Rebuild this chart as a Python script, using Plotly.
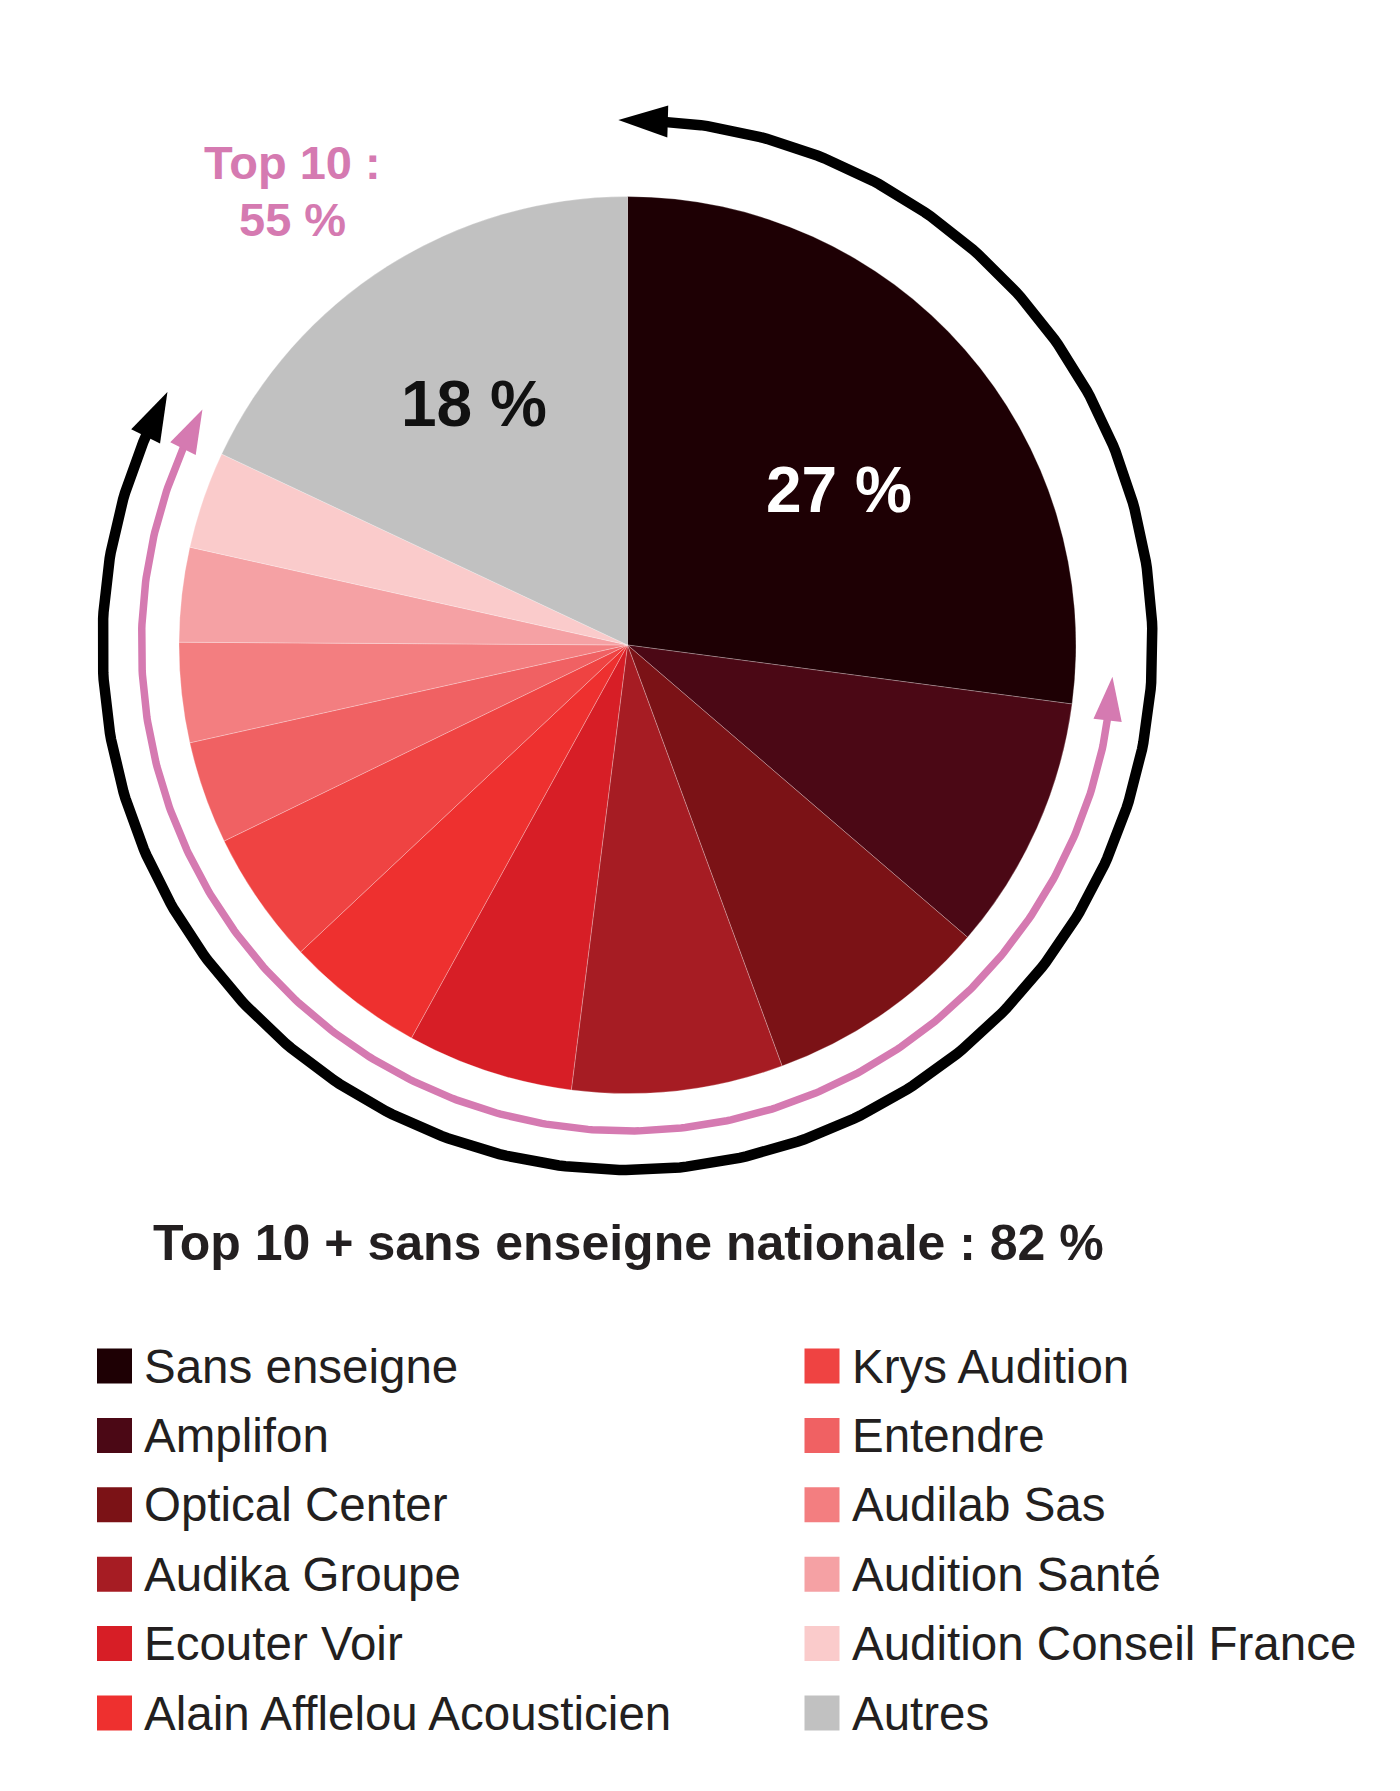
import numpy as np
import plotly.graph_objects as go

# ---------------- data ----------------
labels = ["Sans enseigne", "Amplifon", "Optical Center", "Audika Groupe", "Ecouter Voir",
          "Alain Afflelou Acousticien", "Krys Audition", "Entendre", "Audilab Sas",
          "Audition Santé", "Audition Conseil France", "Autres"]
shares = [27.1, 9.2, 8.1, 7.6, 6.0, 5.0, 4.8, 3.7, 3.6, 3.4, 3.5, 18.0]
colors = ["#1E0004", "#4B0815", "#7B1216", "#A61C23", "#D71E26", "#EE302F",
          "#EF4342", "#F06163", "#F37E80", "#F5A1A4", "#FACBCB", "#C1C1C1"]
top10_idx = list(range(1, 11))   # Amplifon ... Audition Conseil France
sans_idx = 0
autres_idx = 11

# ---------------- geometry / style ----------------
W, H = 1400, 1791
CX, CY, R = 627.5, 645.0, 448.5
FONT = "Liberation Sans, Arial, sans-serif"
TXT = "#231F20"
PINK = "#D57AB1"

total = float(sum(shares))
cum = np.cumsum(shares) / total * 360.0          # end angle of each slice (deg, clockwise from 12h)
start = np.concatenate([[0.0], cum[:-1]])
top10_share = sum(shares[i] for i in top10_idx)
top10_plus_sans = top10_share + shares[sans_idx]


def pt(theta_deg, r):
    t = np.radians(theta_deg)
    return CX + r * np.sin(t), CY - r * np.cos(t)


fig = go.Figure()

fig.add_trace(go.Pie(
    labels=labels, values=shares, sort=False, direction="clockwise", rotation=0,
    marker=dict(colors=colors, line=dict(color="rgba(255,255,255,0.25)", width=1)),
    textinfo="none", hoverinfo="label+percent", showlegend=False,
    domain=dict(x=[(CX - R) / W, (CX + R) / W], y=[(H - CY - R) / H, (H - CY + R) / H]),
))


def add_arc(theta0, theta1, radius, color, width, head_len, head_size):
    dth = np.degrees(head_len / radius)
    back = 0.6 * dth
    th = np.linspace(theta0 + back, theta1 - back, 400)
    xs, ys = pt(th, radius)
    fig.add_trace(go.Scatter(x=xs, y=ys, mode="lines", line=dict(color=color, width=width),
                             hoverinfo="skip", showlegend=False))
    tips, angs = [], []
    for tip_th, base_th in [(theta0, theta0 + dth), (theta1, theta1 - dth)]:
        tx, ty = pt(tip_th, radius)
        bx, by = pt(base_th, radius)
        angs.append(np.degrees(np.arctan2(tx - bx, -(ty - by))))
        tips.append((tx, ty))
    fig.add_trace(go.Scatter(
        x=[p[0] for p in tips], y=[p[1] for p in tips], mode="markers",
        marker=dict(symbol="arrow", size=head_size, color=color, angle=angs,
                    line=dict(width=0)),
        hoverinfo="skip", showlegend=False))


# black arc: sans enseigne + top 10
add_arc(start[sans_idx] - 1.0, cum[top10_idx[-1]] + 3.6, 525, "#000000", 10.5, 48, 52)
# pink arc: top 10
add_arc(start[top10_idx[0]] - 3.8, cum[top10_idx[-1]] + 3.8, 486, PINK, 7.5, 44, 46)

annotations = []
# slice labels
for idx, color, dang, rr in [(sans_idx, "#FFFFFF", 4.9, 262), (autres_idx, "#111111", 0.0, 286)]:
    mid = (start[idx] + cum[idx]) / 2 + dang
    x, y = pt(mid, rr)
    annotations.append(dict(x=x, y=y, xref="x", yref="y", showarrow=False,
                            text=f"<b>{round(shares[idx])} %</b>",
                            font=dict(family=FONT, size=64, color=color)))

annotations.append(dict(x=292.5, y=162, xref="x", yref="y", showarrow=False,
                        text=f"<b>Top {len(top10_idx)} :</b>",
                        font=dict(family=FONT, size=47, color=PINK)))
annotations.append(dict(x=292.5, y=219, xref="x", yref="y", showarrow=False,
                        text=f"<b>{round(top10_share)} %</b>",
                        font=dict(family=FONT, size=47, color=PINK)))

annotations.append(dict(x=628, y=1242.5, xref="x", yref="y", showarrow=False,
                        text=f"<b>Top {len(top10_idx)} + sans enseigne nationale : {round(top10_plus_sans)} %</b>",
                        font=dict(family=FONT, size=50, color=TXT)))

# legend (two columns, column-major)
col_x = [114.5, 822.0]
row_y0, row_dy = 1366.0, 69.4
sq_x, sq_y = [], []
for i, lab in enumerate(labels):
    c, r = divmod(i, 6)
    x, y = col_x[c], row_y0 + r * row_dy
    sq_x.append(x)
    sq_y.append(y)
    annotations.append(dict(x=x + 27.5, y=y, xref="x", yref="y", xanchor="left",
                            showarrow=False, text=lab,
                            font=dict(family=FONT, size=47.5, color=TXT)))
fig.add_trace(go.Scatter(x=sq_x, y=sq_y, mode="markers",
                         marker=dict(symbol="square", size=35, color=colors, line=dict(width=0)),
                         hoverinfo="skip", showlegend=False))

fig.update_layout(
    width=W, height=H, margin=dict(l=0, r=0, t=0, b=0),
    paper_bgcolor="white", plot_bgcolor="white",
    xaxis=dict(range=[0, W], visible=False, fixedrange=True),
    yaxis=dict(range=[H, 0], visible=False, fixedrange=True),
    annotations=annotations, showlegend=False,
)

fig.write_html("out.html")
